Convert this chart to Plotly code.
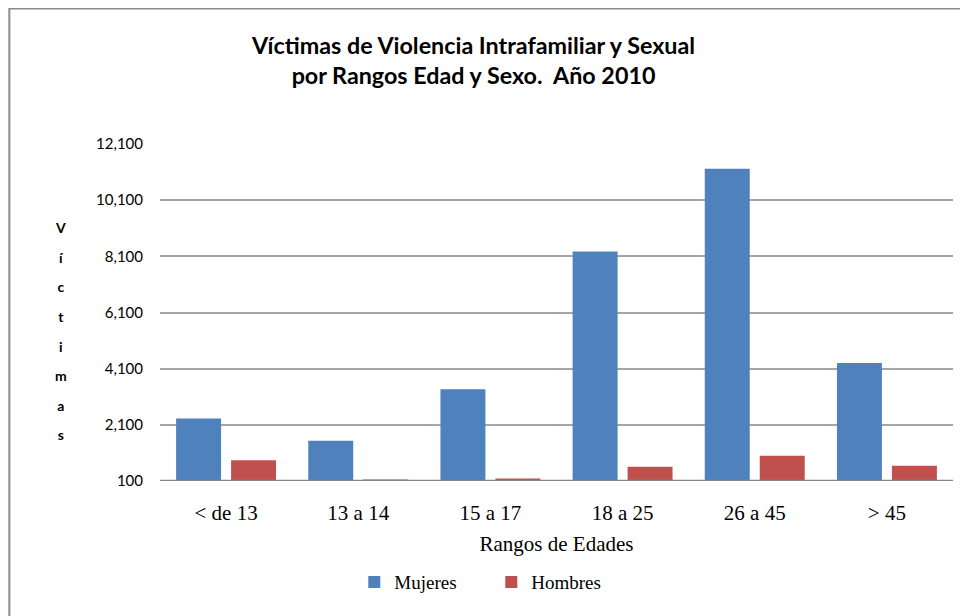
import plotly.graph_objects as go

# Rangos de edad y víctimas por sexo (año 2010)
categories = ["< de 13", "13 a 14", "15 a 17", "18 a 25", "26 a 45", "> 45"]
mujeres = [2326, 1531, 3370, 8276, 11222, 4300]
hombres = [835, 150, 185, 608, 998, 643]
tick_vals = [100, 2100, 4100, 6100, 8100, 10100, 12100]
tick_text = ["100", "2,100", "4,100", "6,100", "8,100", "10,100", "12,100"]

BLUE = "#4F81BD"
RED = "#C0504D"

fig = go.Figure()
fig.add_trace(go.Bar(x=categories, y=mujeres, name="Mujeres", marker=dict(color=BLUE, line_width=0)))
fig.add_trace(go.Bar(x=categories, y=hombres, name="Hombres", marker=dict(color=RED, line_width=0)))

# vertical stacked y-axis label
letters = list("Víctimas")
ytitle = "<br>".join(f"<span style='font-size:14px'>{c}</span>" for c in letters)

# page body has an 8px margin, so the figure is 8px smaller than the window
fig.update_layout(
    width=960, height=608,
    margin=dict(l=152, r=15, t=136, b=135, autoexpand=False),
    paper_bgcolor="white", plot_bgcolor="white",
    barmode="group", bargap=0.168, bargroupgap=0.182,
    showlegend=True,
    legend=dict(
        orientation="h", x=0.245, xanchor="left", y=-0.30, yanchor="middle",
        font=dict(family="Liberation Serif", size=19, color="black"),
        entrywidth=92, itemwidth=30,
    ),
    xaxis=dict(
        tickfont=dict(family="Liberation Serif", size=21, color="black"),
        title=dict(text="Rangos de Edades", font=dict(family="Liberation Serif", size=21, color="black"), standoff=12),
        showline=False, ticks="", showgrid=False, automargin=False,
        ticklabelstandoff=17,
    ),
    yaxis=dict(
        range=[100, 12100], tickvals=tick_vals, ticktext=tick_text,
        tickfont=dict(family="Lato", size=15, color="black"),
        showgrid=True, gridcolor="#A6A6A6", gridwidth=1.5,
        zeroline=False, ticks="", ticklabelstandoff=16, automargin=False,
    ),
    annotations=[
        dict(text="<b>Víctimas de Violencia Intrafamiliar y Sexual<br>por Rangos Edad y Sexo.  Año 2010</b>",
             xref="paper", yref="paper", x=0.395, y=1.249, xanchor="center", yanchor="middle",
             showarrow=False, font=dict(family="Lato", size=23.3, color="black")),
        dict(text=f"<b>{ytitle}</b>", xref="paper", yref="paper", x=-0.125, y=0.446,
             xanchor="center", yanchor="middle", showarrow=False,
             font=dict(family="Lato", size=22.8, color="black")),
    ],
    shapes=[
        # baseline at 100
        dict(type="line", xref="paper", yref="y", x0=0, x1=1, y0=100, y1=100,
             line=dict(color="#868686", width=2.5)),
        # outer chart border
        dict(type="rect", xref="paper", yref="paper", x0=-0.190, x1=1.05, y0=-0.41, y1=1.402,
             line=dict(color="#8C8C8C", width=2), layer="below"),
    ],
)

fig.write_html("out.html")
